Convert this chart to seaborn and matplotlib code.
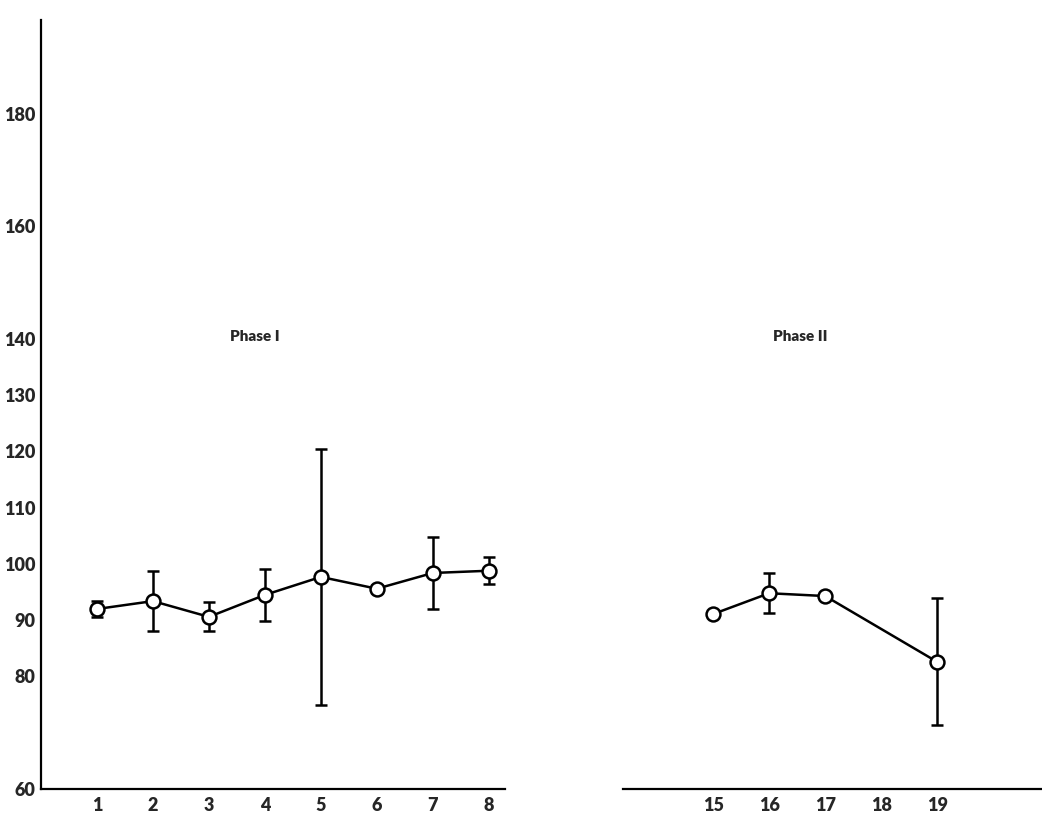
import matplotlib
matplotlib.use("Agg")
import matplotlib.pyplot as plt
import numpy as np
import pandas as pd
import seaborn as sns

# Phase I sessions
phase1_x = [1, 2, 3, 4, 5, 6, 7, 8]
phase1_mean = [92.0, 93.4, 90.6, 94.5, 97.7, 95.6, 98.4, 98.8]
phase1_err = [1.4, 5.3, 2.6, 4.6, 22.8, 0.7, 6.4, 2.4]

# Phase II sessions (no session 18)
phase2_x = [15, 16, 17, 19]
phase2_mean = [91.1, 94.8, 94.3, 82.6]
phase2_err = [0.0, 3.6, 0.0, 11.3]

y_ticks = [60, 80, 90, 100, 110, 120, 130, 140, 160, 180]
x_ticks_1 = [1, 2, 3, 4, 5, 6, 7, 8]
x_ticks_2 = [15, 16, 17, 18, 19]

sns.set_theme(style="white")
plt.rcParams["font.family"] = ["Lato", "DejaVu Sans"]
plt.rcParams["font.weight"] = "bold"

W, H = 1042, 818
fig = plt.figure(figsize=(W / 100, H / 100), dpi=100)

y_lo, y_hi = 60, 196.7
bottom = (H - 789) / H
height = (789 - 20) / H
ax1 = fig.add_axes([41 / W, bottom, (505 - 41) / W, height])
ax2 = fig.add_axes([623 / W, bottom, (W - 623) / W, height])


def draw_phase(ax, xs, means, errs):
    df = pd.DataFrame({"session": xs, "value": means})
    xe = [x for x, e in zip(xs, errs) if e > 0]
    ye = [m for m, e in zip(means, errs) if e > 0]
    ee = [e for e in errs if e > 0]
    ax.errorbar(xe, ye, yerr=ee, fmt="none", ecolor="black",
                elinewidth=1.8, capsize=4.5, capthick=1.8, zorder=2)
    sns.lineplot(data=df, x="session", y="value", ax=ax, color="black",
                 linewidth=1.8, marker="o", markersize=10,
                 markerfacecolor="white", markeredgecolor="black",
                 markeredgewidth=1.8, zorder=3)


draw_phase(ax1, phase1_x, phase1_mean, phase1_err)
draw_phase(ax2, phase2_x, phase2_mean, phase2_err)

ax1.set_xlim(0, 8.29)
ax2.set_xlim(13.39, 13.39 + (W - 623) / 56)
for ax in (ax1, ax2):
    ax.set_ylim(y_lo, y_hi)
    ax.set_xlabel("")
    ax.set_ylabel("")
    ax.set_facecolor("white")
    for s in ("top", "right"):
        ax.spines[s].set_visible(False)
    ax.spines["bottom"].set_color("black")
    ax.spines["bottom"].set_linewidth(1.6)
    ax.tick_params(axis="x", length=0, labelsize=13, pad=6)
    ax.tick_params(axis="y", length=0, labelsize=13, pad=4)

ax1.spines["left"].set_color("black")
ax1.spines["left"].set_linewidth(1.6)
ax1.set_yticks(y_ticks)
ax1.set_yticklabels([str(v) for v in y_ticks], fontweight="heavy")
ax1.set_xticks(x_ticks_1)
ax1.set_xticklabels([str(v) for v in x_ticks_1], fontweight="heavy")

ax2.spines["left"].set_visible(False)
ax2.set_yticks([])
ax2.set_xticks(x_ticks_2)
ax2.set_xticklabels([str(v) for v in x_ticks_2], fontweight="heavy")

ax1.text(3.82, 140.5, "Phase I", ha="center", va="center",
         fontsize=11, fontweight="heavy")
ax2.text(16.55, 140.5, "Phase II", ha="center", va="center",
         fontsize=11, fontweight="heavy")

fig.savefig("out.png", dpi=100, facecolor="white")
